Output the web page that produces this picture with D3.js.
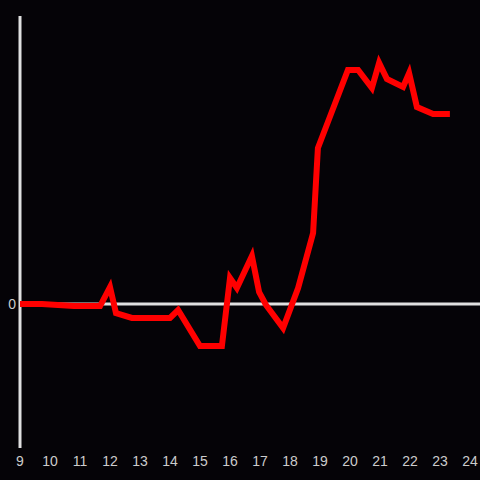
<!DOCTYPE html>
<html>
<head>
<meta charset="utf-8">
<script src="https://cdn.jsdelivr.net/npm/d3@7"></script>
<style>
  html, body { margin: 0; padding: 0; background: #050307; }
  svg { display: block; }
</style>
</head>
<body>
<div id="container"></div>
<script>
// hour of day and value
const hours = [9, 9.73, 10.8, 11.67, 12.0, 12.2, 12.73, 14.0, 14.27, 15.0, 15.73, 16.0, 16.23, 16.73, 16.97, 17.2, 17.77, 18.27, 18.77, 18.93, 19.93, 20.27, 20.73, 20.97, 21.23, 21.77, 21.97, 22.23, 22.77, 23.33];
const values = [0, 0, -0.014, -0.014, 0.118, -0.063, -0.097, -0.097, -0.042, -0.292, -0.292, 0.181, 0.111, 0.333, 0.083, -0.007, -0.167, 0.111, 0.493, 1.083, 1.625, 1.625, 1.5, 1.674, 1.563, 1.507, 1.604, 1.368, 1.319, 1.319];
const xTicks = [9, 10, 11, 12, 13, 14, 15, 16, 17, 18, 19, 20, 21, 22, 23, 24];
const yTicks = [0];

const width = 480, height = 480;

const svg = d3.select("#container")
    .append("svg")
    .attr("width", width)
    .attr("height", height);

svg.append("rect")
    .attr("width", width)
    .attr("height", height)
    .attr("fill", "#050307");

const x = d3.scaleLinear().domain([9, 24]).range([20, 470]);
const y = d3.scaleLinear().domain([-1, 2]).range([448, 16]);

// zero line
svg.append("line")
    .attr("x1", 20).attr("x2", width)
    .attr("y1", y(0)).attr("y2", y(0))
    .attr("stroke", "#e0e0e0")
    .attr("stroke-width", 3);

// vertical axis line
svg.append("line")
    .attr("x1", x(9)).attr("x2", x(9))
    .attr("y1", 16).attr("y2", 448)
    .attr("stroke", "#e0e0e0")
    .attr("stroke-width", 3);

svg.selectAll("text.xt")
    .data(xTicks)
    .enter()
    .append("text")
    .attr("class", "xt")
    .attr("x", d => x(d))
    .attr("y", 466)
    .attr("text-anchor", "middle")
    .attr("fill", "#cccccc")
    .style("font", "14px 'Liberation Sans', Arial, sans-serif")
    .text(d => d);

svg.selectAll("text.yt")
    .data(yTicks)
    .enter()
    .append("text")
    .attr("class", "yt")
    .attr("x", 16)
    .attr("y", d => y(d) + 5)
    .attr("text-anchor", "end")
    .attr("fill", "#cccccc")
    .style("font", "14px 'Liberation Sans', Arial, sans-serif")
    .text(d => d);

const line = d3.line()
    .x(i => x(hours[i]))
    .y(i => y(values[i]));

svg.append("path")
    .datum(d3.range(hours.length))
    .attr("d", line)
    .attr("fill", "none")
    .attr("stroke", "#ff0000")
    .attr("stroke-width", 6)
    .attr("stroke-linejoin", "miter");
</script>
</body>
</html>
